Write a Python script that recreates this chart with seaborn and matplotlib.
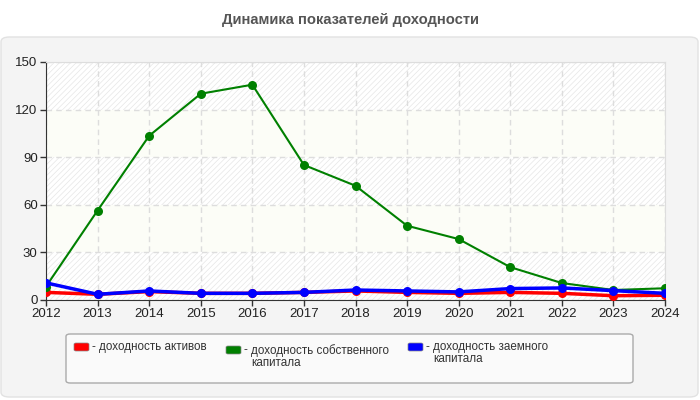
import pandas as pd
import matplotlib
matplotlib.use("Agg")
import matplotlib.pyplot as plt
import seaborn as sns
from matplotlib.patches import FancyBboxPatch

years = list(range(2012, 2025))
assets = [4.8, 3.6, 5.3, 4.2, 4.2, 4.8, 5.7, 4.8, 4.2, 4.8, 4.2, 2.7, 3.0]
equity = [8.5, 56.4, 103.5, 130.0, 135.7, 85.1, 72.0, 46.8, 38.4, 20.7, 10.7, 6.3, 7.4]
borrowed = [10.8, 3.6, 5.7, 4.2, 4.2, 4.8, 6.3, 5.7, 5.1, 7.2, 7.6, 5.9, 4.2]

names = ["доходность активов", "доходность собственного\nкапитала", "доходность заемного\nкапитала"]
colors = ["#ff0000", "#008000", "#0000ff"]
widths = [2.5, 1.5, 2.5]

data = pd.DataFrame({"год": years * 3,
                     "значение": assets + equity + borrowed,
                     "ряд": [names[0]] * 13 + [names[1]] * 13 + [names[2]] * 13})

sns.set_style("white")
plt.rcParams["font.family"] = ["Liberation Sans", "DejaVu Sans"]
plt.rcParams["hatch.linewidth"] = 0.5

fig = plt.figure(figsize=(7, 4), dpi=100)
fig.patch.set_facecolor("white")


def fbox(x0, y0, x1, y1, **kw):
    # прямоугольник в пикселях от верхнего левого угла
    p = FancyBboxPatch((x0 / 700, 1 - y1 / 400), (x1 - x0) / 700, (y1 - y0) / 400,
                       transform=fig.transFigure, **kw)
    fig.patches.append(p)
    return p


fbox(1, 37, 698, 397, boxstyle="round,pad=0,rounding_size=0.012",
     facecolor="#f4f4f4", edgecolor="#e2e2e2", linewidth=1, zorder=-2)
fig.text(0.5, 1 - 20 / 400, "Динамика показателей доходности", ha="center", va="center",
         fontsize=10.6, fontweight="bold", color="#555555")

ax = fig.add_axes([46 / 700, 1 - 300 / 400, 619 / 700, 238 / 400])
ax.set_zorder(1)
ax.set_facecolor("#fcfdf7")
for i, lo in enumerate(range(0, 150, 30)):
    if i % 2 == 0:
        ax.axhspan(lo, lo + 30, facecolor="white", edgecolor="#e6e6e6", hatch="//////",
                   linewidth=0, zorder=0)

for name, col, lw in zip(names, colors, widths):
    sns.lineplot(data=data[data["ряд"] == name], x="год", y="значение", color=col,
                 linewidth=lw, marker="o", markersize=6.5, markeredgewidth=0, ax=ax, zorder=3)

ax.set_xlim(2012, 2024)
ax.set_ylim(0, 150)
ax.set_xticks(years)
ax.set_yticks(range(0, 151, 30))
ax.grid(True, linestyle=(0, (4, 3)), color="#dddddd", linewidth=1)
ax.set_axisbelow(True)
ax.set_xlabel("")
ax.set_ylabel("")
for s in ["top", "right"]:
    ax.spines[s].set_color("#dddddd")
for s in ["left", "bottom"]:
    ax.spines[s].set_color("#333333")
ax.tick_params(axis="both", labelsize=9.5, colors="#333333", length=4, width=1, direction="out",
               bottom=True, left=True, pad=2)
ax.tick_params(axis="both", labelcolor="#222222")

# легенда
fbox(66, 334, 633, 383, boxstyle="round,pad=0,rounding_size=0.006",
     facecolor="#fafafa", edgecolor="#aaaaaa", linewidth=1, zorder=-1)
leg_x = [74, 226, 408]
leg_y = [343, 346, 343]
for name, col, x, y in zip(names, colors, leg_x, leg_y):
    fbox(x, y, x + 15, y + 8, boxstyle="round,pad=0,rounding_size=0.003",
         facecolor=col, edgecolor="#888888", linewidth=0.5, zorder=1)
    fig.text((x + 18) / 700, 1 - (y - 2) / 400, "-", ha="left", va="top",
             fontsize=8.4, color="#333333")
    fig.text((x + 25) / 700, 1 - (y - 2) / 400, name, ha="left", va="top",
             fontsize=8.4, color="#333333", linespacing=1.0)

fig.savefig("out.png", dpi=100)
